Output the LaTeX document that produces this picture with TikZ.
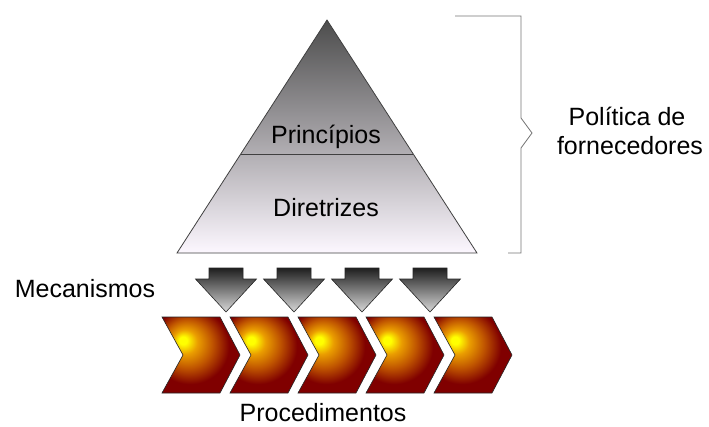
\documentclass[tikz,border=0pt]{standalone}
\usepackage{fontspec}
\setmainfont{Liberation Sans}
\usetikzlibrary{calc}

\definecolor{pyrtop}{rgb}{0.30,0.30,0.30}
\definecolor{pyrbot}{rgb}{0.99,0.97,1.00}
\definecolor{glowmid}{rgb}{0.92,0.62,0.00}
\definecolor{glowbrown}{rgb}{0.75,0.33,0.00}
\definecolor{glowred}{rgb}{0.50,0.00,0.00}
\pgfdeclareradialshading{procglow}{\pgfpoint{-12bp}{10bp}}{%
  color(0bp)=(yellow); color(2.5bp)=(yellow);
  color(8bp)=(glowmid); color(16bp)=(glowbrown);
  color(25bp)=(glowred); color(60bp)=(glowred)}

\begin{document}
\begin{tikzpicture}
    [x=1pt, y=-1pt,
    lbl/.style={font=\fontsize{25}{27}\selectfont, inner sep=0pt, anchor=base},
    pyr/.style={draw=black!75, line width=0.8pt,
        top color=pyrtop, bottom color=pyrbot},
    mech/.style={draw=black!85, line width=0.6pt,
        top color=black!88, bottom color=black!15},
    proc/.style={draw=black!85, line width=0.6pt, shading=procglow},
    brace/.style={draw=black!55, line width=0.8pt}]

    \useasboundingbox (0,0) rectangle (709,426);

    % pyramid
    \coordinate (apex) at (327,20);
    \coordinate (bl) at (177,253);
    \coordinate (br) at (477,253);
    \draw[pyr] (apex) -- (br) -- (bl) -- cycle;
    \draw[draw=black!75, line width=0.8pt]
        ($(apex)!.575!(bl)$) -- ($(apex)!.575!(br)$);

    \node[lbl] (princ) at (326,143.5) {Princípios};
    \node[lbl] (diret) at (326,216) {Diretrizes};

    % brace
    \draw[brace] (455,16) -- (521,16) -- (521,118) -- (532,133)
        -- (521,148) -- (521,253) -- (508,253);
    \node[lbl] (pol) at (627,125) {Política de};
    \node[lbl] (forn) at (630,154) {fornecedores};

    % mecanismos
    \node[lbl] (mec) at (85,297.3) {Mecanismos};
    \foreach \x in {226,294,362,430}
        \draw[mech] (\x-17,268) -- (\x+17,268) -- (\x+17,279)
            -- (\x+30.5,279) -- (\x,312) -- (\x-30.5,279)
            -- (\x-17,279) -- cycle;

    % procedimentos
    \foreach \x in {162,230,298,366,434}
        \draw[proc] (\x,317) -- ++(58,0) -- ++(20,38) -- ++(-20,38)
            -- ++(-58,0) -- ++(21,-38) -- cycle;
    \node[lbl] (proc) at (323,421.5) {Procedimentos};
\end{tikzpicture}
\end{document}
